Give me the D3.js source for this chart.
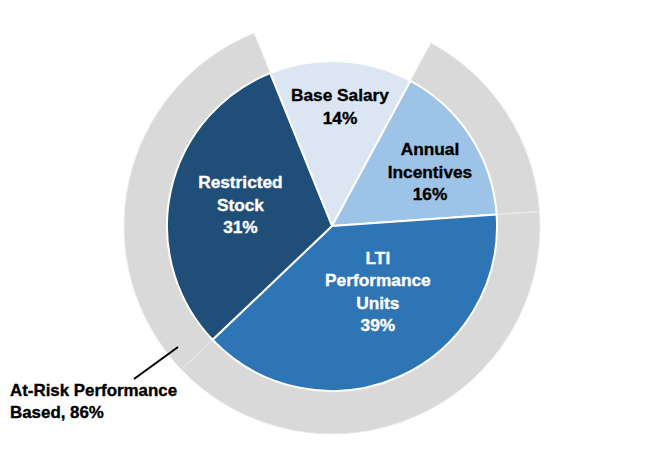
<!DOCTYPE html>
<html>
<head>
<meta charset="utf-8">
<script src="https://cdn.jsdelivr.net/npm/d3@7/dist/d3.min.js"></script>
<style>
  html, body { margin: 0; padding: 0; background: #fff; }
  svg { display: block; }
  text { font-family: "Liberation Sans", Arial, sans-serif; font-weight: bold; }
</style>
</head>
<body>
<svg id="chart" width="663" height="449"></svg>
<script>
// ---- data ----
const categories = ["Base Salary", "Annual Incentives", "LTI Performance Units", "Restricted Stock"];
const values = [14, 16, 39, 31];
const labelLines = [["Base Salary", "14%"], ["Annual", "Incentives", "16%"], ["LTI", "Performance", "Units", "39%"], ["Restricted", "Stock", "31%"]];
const atRiskCategories = ["Annual Incentives", "LTI Performance Units", "Restricted Stock"];
const atRiskLabel = ["At-Risk Performance", "Based, 86%"];

// ---- styling / layout ----
const colors = ["#dce6f2", "#9dc3e6", "#2e75b6", "#1f4e79"];
const textColors = ["#000", "#000", "#fff", "#fff"];
const labelPolar = [[3.8, 120], [61, 112], [145, 80], [283, 94]]; // [deg, radius]
const cx = 332, cy = 226, R = 165, ringOuter = 208;
const startDeg = -22;

const svg = d3.select("#chart");
const g = svg.append("g").attr("transform", `translate(${cx},${cy})`);

const pie = d3.pie().sort(null).value(d => d.value).startAngle(startDeg * Math.PI / 180).endAngle((startDeg + 360) * Math.PI / 180);
const data = categories.map((c, i) => ({ cat: c, value: values[i], i }));
const arcs = pie(data);

// outer gray ring for at-risk components
const ringArc = d3.arc().innerRadius(R - 2).outerRadius(ringOuter);
g.selectAll("path.ring")
  .data(arcs.filter(a => atRiskCategories.includes(a.data.cat)))
  .join("path")
  .attr("class", "ring")
  .attr("d", ringArc)
  .attr("fill", "#d9d9d9")
  .attr("stroke", "#ececec")
  .attr("stroke-width", 1);

// pie
const arc = d3.arc().innerRadius(0).outerRadius(R);
g.selectAll("path.slice")
  .data(arcs)
  .join("path")
  .attr("class", "slice")
  .attr("d", arc)
  .attr("fill", d => colors[d.data.i])
  .attr("stroke", "#fff")
  .attr("stroke-width", 2)
  .attr("stroke-linejoin", "round");

// labels
const lh = 22.5;
arcs.forEach(a => {
  const i = a.data.i;
  const [deg, r] = labelPolar[i];
  const ang = deg * Math.PI / 180;
  const x = r * Math.sin(ang), y = -r * Math.cos(ang);
  const lines = labelLines[i];
  const t = g.append("text")
    .attr("text-anchor", "middle")
    .attr("font-size", 17.3)
    .attr("fill", textColors[i])
    .attr("stroke", textColors[i])
    .attr("stroke-width", 0.35);
  lines.forEach((l, k) => {
    t.append("tspan")
      .attr("x", x)
      .attr("y", y + (k - (lines.length - 1) / 2) * lh)
      .attr("dy", "0.35em")
      .text(l);
  });
});

// callout
svg.append("line")
  .attr("x1", 178).attr("y1", 347).attr("x2", 134).attr("y2", 379)
  .attr("stroke", "#000").attr("stroke-width", 2);
const at = svg.append("text").attr("font-size", 16.9).attr("fill", "#000")
  .attr("stroke", "#000").attr("stroke-width", 0.35);
atRiskLabel.forEach((l, k) => {
  at.append("tspan").attr("x", 10).attr("y", 396 + k * 22).text(l);
});
</script>
</body>
</html>
